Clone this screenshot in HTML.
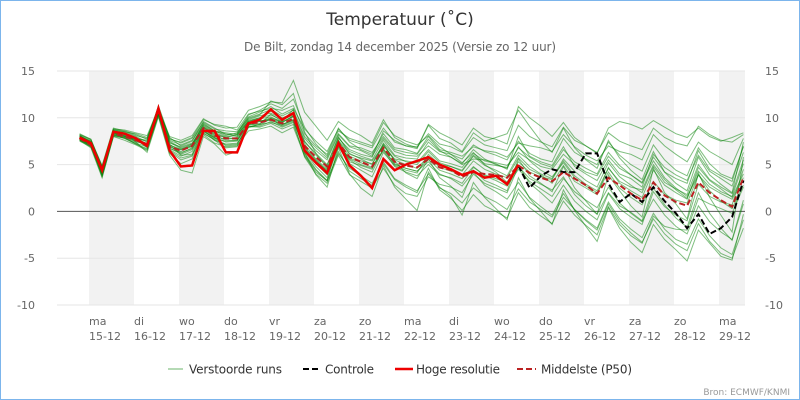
<!DOCTYPE html>
<html><head><meta charset="utf-8"><style>
html,body{margin:0;padding:0;background:#fff}
svg{display:block;font-family:"DejaVu Sans","Liberation Sans",sans-serif}
</style></head><body>
<svg id="chart" width="800" height="400" viewBox="0 0 800 400">
<rect x="0.5" y="0.5" width="799" height="399" fill="#fff" stroke="#7cb5ec"/>
<text x="400" y="25" text-anchor="middle" font-size="17" fill="#333">Temperatuur (˚C)</text>
<text x="400" y="51" text-anchor="middle" font-size="12" fill="#666" textLength="312">De Bilt, zondag 14 december 2025 (Versie zo 12 uur)</text>
<g id="bands"></g><g id="grid"></g><g id="members"></g><g id="mainlines"></g><g id="axes"></g>
<g font-size="12" fill="#333">
<g><line x1="168" y1="369" x2="183" y2="369" stroke="#b5dab5" stroke-width="2"/><text x="189" y="373.5" textLength="93">Verstoorde runs</text></g>
<g><line x1="303" y1="369" x2="320" y2="369" stroke="#000" stroke-width="2" stroke-dasharray="6,3"/><text x="325" y="373.5" textLength="49">Controle</text></g>
<g><line x1="395" y1="369" x2="413" y2="369" stroke="#e00" stroke-width="2.5"/><text x="416" y="373.5" textLength="84">Hoge resolutie</text></g>
<g><line x1="517" y1="369" x2="536" y2="369" stroke="#b22" stroke-width="2" stroke-dasharray="6,3"/><text x="541" y="373.5" textLength="91">Middelste (P50)</text></g>
</g>
<text x="790" y="395" text-anchor="end" font-size="9" fill="#999">Bron: ECMWF/KNMI</text>
</svg>
<script>
const dayNames=["ma","di","wo","do","vr","za","zo","ma","di","wo","do","vr","za","zo","ma"];
const dayDates=["15-12","16-12","17-12","18-12","19-12","20-12","21-12","22-12","23-12","24-12","25-12","26-12","27-12","28-12","29-12"];
const yTicks=[15,10,5,0,-5,-10];
const median=[7.8,7.1,4.5,8.3,8.0,7.6,7.2,10.7,6.9,6.5,7.0,8.9,8.1,7.8,7.8,9.4,9.5,9.8,9.4,9.9,7.0,5.8,4.8,7.3,5.8,5.3,4.8,6.8,5.3,4.9,4.7,5.6,4.7,4.4,3.7,4.2,4.0,3.9,3.6,4.9,4.1,3.6,3.2,4.2,3.5,2.8,1.9,3.6,2.8,1.9,1.2,3.1,1.7,1.0,0.6,3.1,2.0,1.2,0.5,3.6];
const hres=[7.9,7.3,4.4,8.5,8.3,7.8,7.0,11.0,6.5,4.8,4.9,8.6,8.6,6.3,6.3,9.4,9.8,10.9,9.8,10.5,6.5,5.2,4.1,7.3,4.9,3.8,2.5,5.6,4.4,5.0,5.4,5.8,5.0,4.5,3.9,4.3,3.6,3.8,2.9,5.0];
const control=[7.9,7.3,4.4,8.5,8.3,7.8,7.0,11.0,6.5,4.8,4.9,8.6,8.6,6.3,6.3,9.4,9.8,10.9,9.8,10.5,6.5,5.2,4.1,7.3,4.9,3.8,2.5,5.6,4.4,5.0,5.4,5.8,5.0,4.5,3.9,4.3,3.6,3.8,2.9,4.9,2.5,3.8,4.5,4.2,4.2,6.2,6.2,3.0,1.0,1.9,1.0,2.6,1.1,-0.2,-1.8,-0.3,-2.4,-1.8,-0.6,3.3];
const m1=[8.0,7.4,4.0,8.6,8.2,7.9,7.0,10.5,7.5,6.8,7.2,9.1,8.4,8.0,8.1,9.8,10.2,10.5,9.9,10.6,7.8,6.5,5.5,8.2,6.9,6.5,5.9,7.8,6.4,6.0,5.9,7.0,6.1,5.8,5.0,5.6,5.5,5.2,4.9,6.3,5.5,4.8,4.5,6.1,5.0,4.2,3.8,5.9,4.6,3.9,3.1,5.8,4.2,3.5,3.0,6.5,4.5,3.8,3.2,7.0];
const m2=[7.6,6.8,3.6,8.0,7.6,7.1,6.5,10.2,6.2,5.1,5.6,8.2,7.3,6.9,7.0,8.6,8.8,9.1,8.4,9.0,5.9,4.2,3.3,6.2,4.6,3.8,3.0,5.3,3.5,2.8,2.2,4.0,2.5,1.9,0.9,2.5,1.6,1.0,0.2,2.4,1.0,0.2,-0.6,1.5,0.2,-0.9,-1.8,1.0,-0.8,-1.9,-2.8,-0.2,-1.9,-3.0,-3.5,-0.8,-2.6,-3.9,-4.6,-0.9];
const m3=[8.2,7.6,4.9,8.9,8.6,8.2,7.7,11.1,7.8,7.3,7.8,9.5,8.8,8.6,8.5,10.1,10.6,11.2,10.4,11.0,8.8,7.5,6.4,8.8,7.6,7.2,6.8,8.9,7.4,7.0,6.9,8.3,7.2,6.9,6.3,7.9,7.1,6.8,6.5,9.2,8.0,7.4,6.9,9.0,7.6,7.0,6.3,8.4,7.5,7.0,6.6,8.9,7.9,7.3,7.0,9.1,8.2,7.6,7.4,8.2];
const m4=[7.7,7.0,4.2,8.2,7.9,7.4,7.3,10.9,6.6,5.9,6.4,8.5,7.9,7.4,7.5,9.2,9.4,9.9,9.1,9.6,6.7,5.1,3.9,7.0,5.5,4.7,4.2,6.7,5.0,4.6,4.3,5.6,4.4,4.0,3.5,4.8,3.8,3.3,2.7,4.5,3.2,2.4,1.6,3.5,2.1,1.2,0.4,2.6,0.9,-0.2,-1.1,1.3,-0.4,-1.6,-2.4,0.6,-1.1,-2.2,-3.0,1.2];
const m5=[7.9,7.2,4.6,8.4,8.1,7.7,6.8,10.4,7.1,6.6,6.9,9.0,8.3,7.9,7.7,9.6,9.9,10.1,9.5,10.2,7.2,5.6,4.5,7.6,6.2,5.6,5.0,7.3,5.9,5.3,5.0,6.4,5.2,4.8,4.3,5.9,4.9,4.4,3.8,6.0,4.8,4.0,3.5,5.6,4.3,3.3,2.6,5.2,3.7,2.8,2.0,4.8,3.1,2.4,1.8,5.0,3.4,2.6,1.9,5.5];
const m6=[8.1,7.5,4.3,8.7,8.4,8.0,7.4,11.3,7.9,7.0,7.5,9.6,8.9,8.2,8.3,10.3,10.8,11.5,11.0,12.0,9.0,7.2,5.9,8.6,7.8,7.4,7.0,9.5,8.1,7.5,7.1,8.1,6.9,6.1,5.2,6.3,5.0,4.2,3.1,4.9,3.0,2.0,0.9,2.8,1.1,0.0,-0.9,1.9,0.3,-0.6,-1.4,2.1,0.5,-0.4,-1.0,2.9,1.6,1.0,0.7,4.5];
const m7=[7.5,6.9,3.8,8.1,7.8,7.2,6.6,10.6,6.8,6.1,6.6,8.7,7.6,7.2,7.3,9.0,9.3,9.5,9.2,9.8,6.4,4.8,3.6,6.9,5.1,4.4,3.7,6.3,4.9,4.4,4.1,6.1,5.0,4.8,4.4,6.0,5.1,4.9,4.7,6.8,5.8,5.1,4.7,6.6,5.3,4.6,4.0,6.3,4.9,3.9,3.0,5.4,3.6,2.5,1.6,3.9,2.2,1.1,0.3,2.8];
const m8=[7.8,7.1,4.1,8.3,8.0,7.5,7.1,10.8,6.4,5.5,5.9,8.3,7.7,7.1,7.2,9.1,9.0,9.4,8.8,9.3,6.0,4.4,3.2,6.4,4.3,3.5,2.8,5.1,3.4,2.6,2.0,4.6,2.3,1.4,0.1,1.8,0.6,0.0,-0.7,2.0,0.4,-0.5,-1.3,1.1,-0.4,-1.5,-2.5,0.5,-1.4,-2.6,-3.4,-0.5,-1.6,-1.9,-2.0,1.4,0.8,0.3,-0.2,2.6];
const m9=[8.0,7.3,4.7,8.5,8.3,7.8,7.5,10.7,7.3,6.9,7.3,9.2,8.5,8.3,8.0,9.7,10.0,10.7,10.0,10.4,7.5,6.0,4.9,7.9,6.4,5.9,5.5,7.6,6.0,5.7,5.6,7.4,6.4,6.1,5.6,7.1,6.4,6.0,5.5,7.5,6.2,5.6,5.3,7.8,6.3,5.6,5.0,7.4,6.0,5.0,4.3,7.1,5.5,4.4,3.8,6.8,5.1,4.0,3.5,6.9];
const m10=[7.6,7.0,4.4,8.2,7.8,7.3,6.9,10.3,6.7,6.3,6.7,8.6,7.8,7.5,7.6,9.3,9.6,10.0,9.6,10.1,6.8,5.4,4.2,7.2,5.6,5.0,4.6,6.5,4.8,4.2,3.8,5.0,3.9,3.6,3.0,4.7,3.9,3.5,3.1,5.3,4.2,3.7,3.4,5.4,3.8,2.9,2.2,4.6,3.2,2.6,2.3,5.0,3.4,2.3,1.4,4.3,2.9,2.1,1.6,5.1];
const m11=[8.3,7.7,4.8,8.8,8.5,8.1,7.8,11.2,7.6,7.1,7.6,9.3,8.6,8.4,8.2,10.0,10.4,10.9,10.2,10.8,8.0,6.8,5.7,8.3,7.0,6.8,6.3,8.0,6.6,6.3,6.1,7.7,6.5,5.8,5.1,6.6,5.6,5.0,4.6,6.9,5.4,4.4,3.7,5.2,3.6,2.7,2.0,4.2,2.5,1.5,0.7,3.2,1.8,1.2,0.9,3.9,2.6,1.9,1.3,3.6];
const m12=[7.7,7.2,4.0,8.3,8.0,7.6,7.2,10.6,6.9,6.4,7.1,8.8,8.0,7.7,7.9,9.5,9.7,9.7,9.3,9.7,6.6,5.3,4.4,7.5,5.9,5.4,5.1,7.1,5.5,5.0,4.6,5.9,4.7,4.3,3.9,5.4,4.5,4.0,3.6,5.7,4.5,3.9,3.0,4.9,3.2,2.5,1.8,4.7,3.0,2.2,1.5,4.4,2.8,2.0,1.3,4.7,3.3,2.4,1.5,4.0];
const m13=[8.1,7.4,4.5,8.6,8.3,7.9,7.2,10.9,7.4,6.7,7.0,9.4,8.6,8.1,8.4,9.9,10.3,11.8,11.4,12.6,8.5,6.2,4.6,7.8,6.6,6.1,5.8,8.6,7.6,7.0,6.7,9.2,7.8,7.3,6.4,8.4,7.5,7.9,8.3,10.8,9.1,7.5,6.3,8.9,6.8,5.5,4.6,7.6,5.7,4.4,3.4,6.4,4.2,3.0,2.2,5.8,3.9,2.9,2.0,7.4];
const m14=[7.8,7.2,4.3,8.4,8.1,7.6,7.0,10.6,7.0,6.2,6.8,8.9,8.1,7.6,7.6,9.4,9.6,9.9,9.3,9.8,6.9,5.5,4.3,7.1,5.7,5.2,4.7,6.6,5.1,4.6,4.3,5.3,4.0,3.5,2.7,4.2,2.8,2.1,1.3,3.1,1.5,0.5,-0.4,1.9,0.2,-1.0,-2.0,0.8,-1.1,-2.3,-3.3,-0.8,-2.4,-3.5,-4.2,-1.3,-3.2,-4.5,-5.0,-1.8];
const m15=[7.9,7.0,3.9,8.1,8.3,7.4,6.3,10.1,6.0,4.4,4.1,8.0,7.2,6.0,6.4,9.0,9.3,10.4,9.6,10.9,6.3,3.9,2.6,6.8,4.0,2.5,1.6,4.9,2.6,1.3,0.1,4.2,2.6,1.6,-0.4,3.1,1.5,0.3,-0.9,3.6,1.4,0.0,-1.4,2.3,0.1,-1.6,-3.2,0.4,-1.8,-3.3,-4.4,-1.4,-3.0,-4.1,-5.3,-2.0,-3.4,-4.8,-5.2,-0.3];
const m16=[8.0,7.5,4.8,8.7,8.5,8.3,7.9,10.9,8.0,7.6,8.1,9.9,9.2,8.9,9.0,10.8,11.2,11.7,11.6,14.0,10.6,9.1,7.6,9.6,8.7,8.1,7.3,9.8,7.9,7.2,6.8,9.3,8.4,7.8,7.1,8.9,8.0,7.7,7.2,11.2,10.0,9.1,8.0,9.5,7.9,7.0,6.2,8.9,9.6,9.3,8.8,9.7,9.0,8.3,7.9,8.9,8.0,7.5,7.9,8.4];
const m17=[7.7,6.9,4.4,8.4,8.0,7.7,6.9,10.5,7.2,6.0,6.1,8.7,7.9,7.0,7.1,9.3,9.2,9.9,9.5,10.2,6.2,4.5,3.3,7.6,5.3,4.9,4.5,7.2,5.4,4.1,3.5,5.6,3.6,2.7,1.5,4.4,3.3,2.8,2.2,5.6,3.8,3.0,2.1,4.8,2.5,1.1,-0.3,3.9,2.2,0.6,-0.6,4.6,2.0,0.8,-0.8,4.1,1.5,-0.4,-2.2,5.8];
const m18=[8.2,7.7,4.6,8.8,8.7,8.4,8.1,11.0,7.7,7.4,7.9,9.8,9.3,9.1,8.7,10.4,10.7,11.0,10.8,11.3,8.3,7.0,6.1,8.9,7.4,6.6,6.1,8.3,6.8,6.6,6.2,8.0,6.6,6.3,5.9,6.9,6.5,6.3,5.8,7.3,7.0,6.8,6.4,8.2,6.9,6.0,5.4,7.0,6.4,6.1,5.5,8.2,7.0,6.1,5.3,7.4,6.4,5.7,5.0,7.8];
const m19=[7.6,7.1,3.7,8.0,7.9,7.2,6.7,10.4,6.5,5.7,6.0,8.4,7.6,6.8,6.9,9.0,9.1,9.6,9.0,9.5,5.8,4.0,3.0,6.0,3.9,3.2,2.5,4.6,2.8,1.9,1.6,3.7,2.9,2.6,2.0,4.0,3.0,2.5,2.0,4.8,3.5,2.9,2.3,3.7,1.8,0.6,-0.3,2.0,0.6,-0.1,-1.0,2.5,0.7,-0.7,-1.7,2.0,-0.2,-1.8,-3.1,0.8];
const m20=[8.1,7.3,4.2,8.5,8.2,7.8,7.6,11.0,7.1,6.6,7.2,9.0,8.2,7.9,8.2,9.6,10.0,10.3,9.8,10.3,7.4,6.2,5.0,8.0,6.1,5.7,5.4,7.0,5.6,5.4,5.2,6.6,5.4,5.1,4.7,6.2,5.4,5.1,4.5,8.0,5.9,5.3,4.9,6.9,4.8,4.0,3.3,5.5,4.0,3.5,2.6,6.1,4.7,3.9,3.3,6.0,4.3,3.5,2.7,6.3];
const members=[m1,m2,m3,m4,m5,m6,m7,m8,m9,m10,m11,m12,m13,m14,m15,m16,m17,m18,m19,m20];

const NS="http://www.w3.org/2000/svg";
const L=57,R=745,T=71,B=305,yMin=-10,yMax=15;
const day0=89,dayW=45,stepH=6,startH=-5;
function xScale(i){return day0+(startH+i*stepH)/24*dayW;}
function xDay(d){return day0+d*dayW;}
function yScale(v){return B-(v-yMin)/(yMax-yMin)*(B-T);}
function mk(tag,attrs,parent){const e=document.createElementNS(NS,tag);for(const k in attrs)e.setAttribute(k,attrs[k]);parent.appendChild(e);return e;}
const bands=document.getElementById('bands'),grid=document.getElementById('grid'),axes=document.getElementById('axes');
dayNames.forEach((n,d)=>{
  if(d%2===0){const w=Math.min(dayW,R-xDay(d));
    const r=mk('rect',{x:xDay(d),y:T,width:w,height:B-T,fill:'#f2f2f2'},bands);
    
    }
  const t1=mk('text',{x:xDay(d),y:325,'font-size':11,fill:'#666'},axes);t1.textContent=n;
  
  
  const t2=mk('text',{x:xDay(d),y:340,'font-size':11,fill:'#666'},axes);t2.textContent=dayDates[d];
  
  
});
yTicks.forEach(v=>{
  const y=yScale(v);
  const g=mk('line',{x1:L,x2:R,y1:y,y2:y,stroke:v===0?'#555':'#e6e6e6','stroke-width':1},grid);
  
  
  const a=mk('text',{x:35,y:y+4,'text-anchor':'end','font-size':11,fill:'#666'},axes);a.textContent=v;
  
  
  const b=mk('text',{x:765,y:y+4,'text-anchor':'start','font-size':11,fill:'#666'},axes);b.textContent=v;
  
  
});
function pts(arr){return arr.map((v,i)=>xScale(i).toFixed(1)+','+yScale(v).toFixed(1)).join(' ');}
const mg=document.getElementById('members');
members.forEach(m=>{
  const p=mk('polyline',{points:pts(m),fill:'none',stroke:'rgba(0,128,0,0.5)','stroke-width':1},mg);
  
  
});
const ml=document.getElementById('mainlines');
const pc=mk('polyline',{points:pts(control),fill:'none',stroke:'#000','stroke-width':2,'stroke-dasharray':'6,3'},ml);


const pm=mk('polyline',{points:pts(median),fill:'none',stroke:'#b22','stroke-width':2,'stroke-dasharray':'6,3'},ml);


const ph=mk('polyline',{points:pts(hres),fill:'none',stroke:'#e00','stroke-width':2.5},ml);


</script>
</body></html>
